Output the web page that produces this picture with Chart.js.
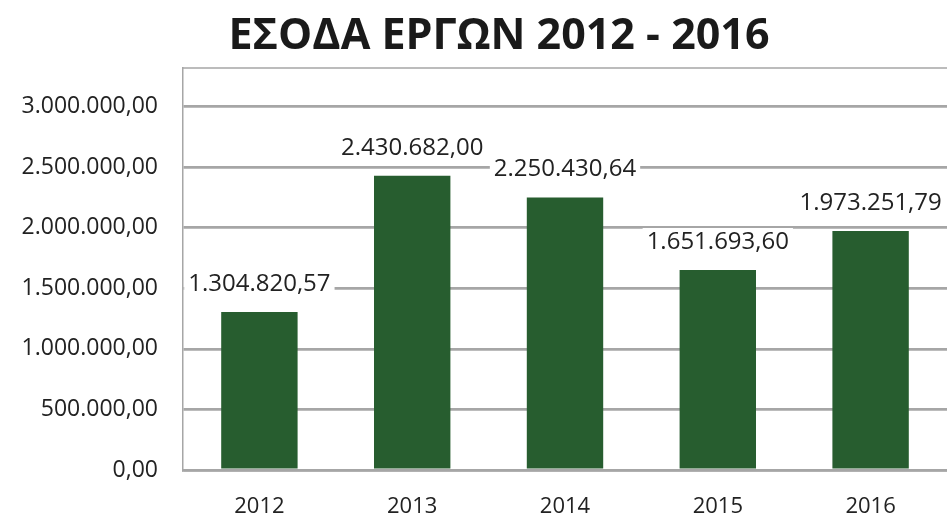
<!DOCTYPE html>
<html>
<head>
<meta charset="utf-8">
<script src="https://cdn.jsdelivr.net/npm/chart.js@4/dist/chart.umd.min.js"></script>
<style>
  html, body { margin: 0; padding: 0; background: #fff; }
  #wrap { width: 947px; height: 515px; }
</style>
</head>
<body>
<div id="wrap"><canvas id="revenueChart" width="947" height="515"></canvas></div>
<script>
const titleText = "ΕΣΟΔΑ ΕΡΓΩΝ 2012 - 2016";
const years = ["2012", "2013", "2014", "2015", "2016"];
const revenue = [1304820.57, 2430682.00, 2250430.64, 1651693.60, 1973251.79];
const yTicks = [0, 500000, 1000000, 1500000, 2000000, 2500000, 3000000];

const FONT = "'Open Sans', 'Noto Sans', sans-serif";
const TEXT = "#222";
const GRID = "#a6a6a6";
const BAR = "#275d2f";

// greek number format 1.234.567,89
function fmt(v) {
  const parts = v.toFixed(2).split(".");
  const int = parts[0].replace(/\B(?=(\d{3})+(?!\d))/g, ".");
  return int + "," + parts[1];
}

/* ===============================
   PLUGINS
================================ */
const frameAndTitle = {
  id: "frameAndTitle",
  beforeDatasetsDraw(chart) {
    const { ctx, chartArea } = chart;
    ctx.save();
    ctx.strokeStyle = GRID;
    ctx.lineWidth = 1.5;
    ctx.beginPath();
    ctx.moveTo(chartArea.left, chartArea.top);
    ctx.lineTo(chartArea.right, chartArea.top);
    ctx.stroke();
    ctx.restore();
  },
  afterDraw(chart) {
    const { ctx } = chart;
    ctx.save();
    ctx.font = "bold 43px " + FONT;
    ctx.fillStyle = "#1a1a1a";
    ctx.textAlign = "center";
    ctx.textBaseline = "middle";
    ctx.fillText(titleText, 499, 37);
    ctx.restore();
  }
};

const valueLabels = {
  id: "valueLabels",
  afterDatasetsDraw(chart) {
    const { ctx } = chart;
    const meta = chart.getDatasetMeta(0);
    ctx.save();
    ctx.font = "24px " + FONT;
    ctx.textAlign = "center";
    ctx.textBaseline = "middle";
    meta.data.forEach((bar, i) => {
      const txt = fmt(revenue[i]);
      const w = ctx.measureText(txt).width;
      const y = bar.y - 28;
      ctx.fillStyle = "#fff";
      ctx.fillRect(bar.x - w / 2 - 4, y - 14, w + 8, 28);
      ctx.fillStyle = TEXT;
      ctx.fillText(txt, bar.x, y);
    });
    ctx.restore();
  }
};

/* ===============================
   CHART
================================ */
new Chart(document.getElementById("revenueChart"), {
  type: "bar",
  data: {
    labels: years,
    datasets: [{
      data: revenue,
      backgroundColor: BAR,
      barPercentage: 0.5,
      categoryPercentage: 1
    }]
  },
  options: {
    responsive: false,
    devicePixelRatio: 1,
    animation: false,
    layout: { padding: { top: 68, right: 0, bottom: 0, left: 0 } },
    plugins: {
      legend: { display: false },
      title: { display: false },
      tooltip: { enabled: false }
    },
    scales: {
      x: {
        afterFit: s => { s.height = 45; },
        grid: { display: false },
        border: { display: true, color: GRID, width: 2.5 },
        ticks: { color: TEXT, font: { family: FONT, size: 22 }, padding: 16 }
      },
      y: {
        min: 0,
        max: 3320000,
        afterFit: s => { s.width = 183; },
        afterBuildTicks: s => { s.ticks = yTicks.map(v => ({ value: v })); },
        grid: { color: GRID, lineWidth: 2.8, drawTicks: false },
        border: { display: true, color: GRID, width: 1.5 },
        ticks: {
          color: TEXT,
          font: { family: FONT, size: 23 },
          padding: 25,
          callback: v => fmt(v)
        }
      }
    }
  },
  plugins: [frameAndTitle, valueLabels]
});
</script>
</body>
</html>
